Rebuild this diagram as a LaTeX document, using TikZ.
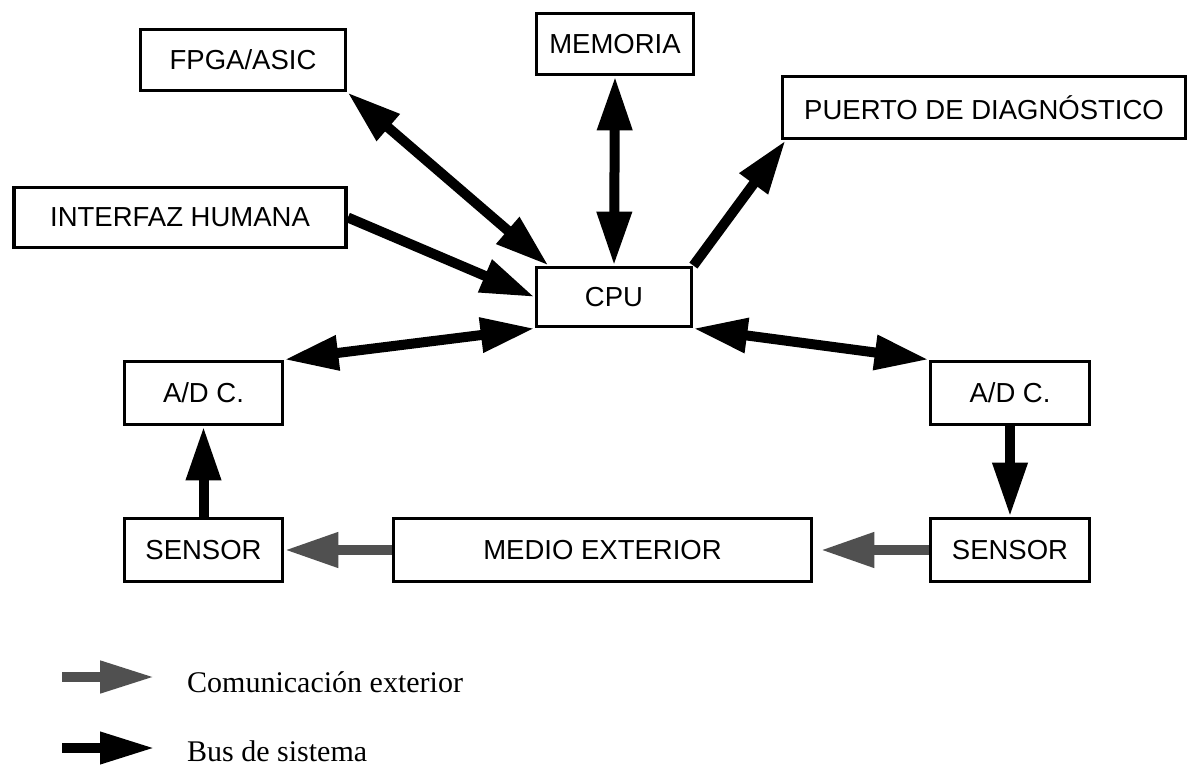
\documentclass[tikz,border=0pt]{standalone}
\usepackage{fontspec}
\setmainfont{Liberation Serif}
\newfontfamily\boxfont{Liberation Sans}
\usetikzlibrary{arrows.meta}
\definecolor{extgray}{RGB}{80,80,80}
\tikzset{
  unit/.style={draw, line width=3.8pt, rectangle, inner sep=0pt,
    font=\boxfont\fontsize{27.5pt}{33pt}\selectfont},
  bus/.style={line width=10pt, -{Triangle[length=54pt,width=33pt]}},
  busboth/.style={line width=10pt, {Triangle[length=54pt,width=33pt]}-{Triangle[length=54pt,width=33pt]}},
  extlink/.style={line width=10.5pt, draw=extgray, -{Triangle[length=54pt,width=33pt, fill=extgray]}},
  legendtext/.style={anchor=base west, inner sep=0pt, font=\fontsize{30pt}{36pt}\selectfont}
}
\begin{document}
\begin{tikzpicture}[x=1pt, y=-1pt]
  \useasboundingbox (0,0) rectangle (1194,767);

  % functional blocks
  \node[unit, minimum width=205, minimum height=61] (fpga) at (243,60) {FPGA/ASIC};
  \node[unit, minimum width=157, minimum height=61] (mem) at (615,44) {MEMORIA};
  \node[unit, minimum width=403, minimum height=62] (diag) at (984,107.5) {PUERTO DE DIAGNÓSTICO};
  \node[unit, minimum width=332, minimum height=60] (hmi) at (180,217.5) {INTERFAZ HUMANA};
  \node[unit, minimum width=155, minimum height=59] (cpu) at (614,297) {CPU};
  \node[unit, minimum width=158, minimum height=63] (adl) at (203.5,393) {A/D C.};
  \node[unit, minimum width=159, minimum height=63] (adr) at (1010,393) {A/D C.};
  \node[unit, minimum width=158, minimum height=63] (senl) at (203.5,550) {SENSOR};
  \node[unit, minimum width=418, minimum height=63] (medio) at (602.5,550) {MEDIO EXTERIOR};
  \node[unit, minimum width=159, minimum height=63] (senr) at (1010,550) {SENSOR};

  % system bus
  \draw[busboth] (fpga.south east) -- ([xshift=14pt]cpu.north west);
  \draw[bus] (hmi.east) -- (cpu.west);
  \draw[busboth] (mem.south) -- (cpu.north);
  \draw[bus] (cpu.north east) -- ([xshift=5pt]diag.south west);
  \draw[busboth] (adl.north east) -- (cpu.south west);
  \draw[busboth] (cpu.south east) -- (adr.north west);
  \draw[bus] (senl.north) -- (adl.south);
  \draw[bus] (adr.south) -- (senr.north);

  % external medium
  \draw[extlink] (medio.west) -- (senl.east);
  \draw[extlink] (senr.west) -- ([xshift=7pt]medio.east);

  % legend
  \coordinate (l1a) at (62,677);
  \coordinate (l1b) at (155,677);
  \coordinate (l2a) at (62,748);
  \coordinate (l2b) at (155,748);
  \draw[extlink, -{Triangle[length=55pt,width=30pt, fill=extgray]}] (l1a) -- (l1b);
  \draw[bus, -{Triangle[length=55pt,width=30pt]}] (l2a) -- (l2b);
  \node[legendtext] (lext) at (187,692) {Comunicación exterior};
  \node[legendtext] (lbus) at (187,761) {Bus de sistema};
\end{tikzpicture}
\end{document}
